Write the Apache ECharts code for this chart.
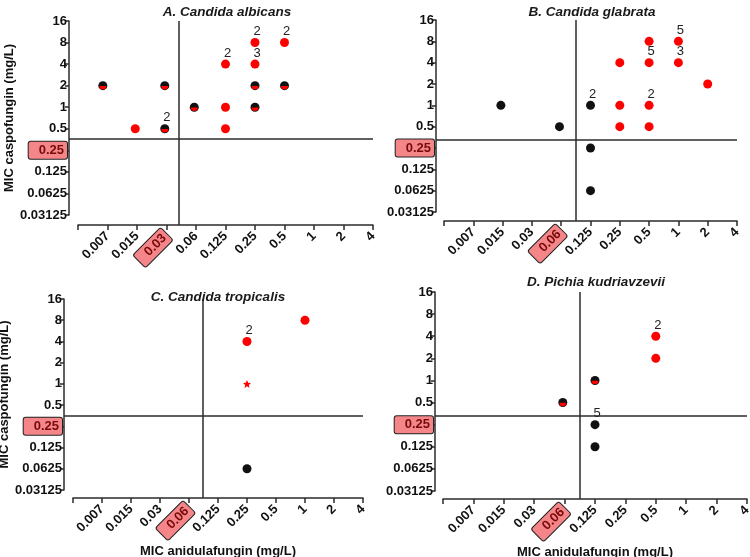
<!DOCTYPE html>
<html><head><meta charset="utf-8">
<script src="https://cdn.jsdelivr.net/npm/echarts@6/dist/echarts.min.js"></script>
<style>html,body{margin:0;padding:0;background:#fff}#c{width:750px;height:557px}</style>
</head><body><div id="c"></div>
<script>
// Tick labels (x: log2 exponents -8..2, y: log2 exponents -5..4)
const xTickLabels = ['', '0.007', '0.015', '0.03', '0.06', '0.125', '0.25', '0.5', '1', '2', '4'];
const yTickLabels = ['0.03125', '0.0625', '0.125', '0.25', '0.5', '1', '2', '4', '8', '16'];
const titles = ['A. Candida albicans', 'B. Candida glabrata', 'C. Candida tropicalis', 'D. Pichia kudriavzevii'];
const xHighlight = ['0.03', '0.06', '0.06', '0.06'];
const yHighlight = ['0.25', '0.25', '0.25', '0.25'];
// breakpoint reference lines (mg/L)
const xCutoff = [0.042, 0.088, 0.086, 0.088];
const yCutoff = [0.36, 0.33, 0.35, 0.33];

// points: [anidulafungin MIC, caspofungin MIC, count label]
const A_red   = [[0.015, 0.5], [0.125, 4, 2], [0.125, 1], [0.125, 0.5], [0.25, 8, 2], [0.25, 4, 3], [0.5, 8, 2]];
const A_black = [];
const A_half  = [[0.007, 2], [0.03, 2], [0.03, 0.5, 2], [0.06, 1], [0.25, 2], [0.25, 1], [0.5, 2]];
const A_star  = [];
const B_red   = [[0.25, 4], [0.25, 1], [0.25, 0.5], [0.5, 8], [0.5, 4, 5], [0.5, 1, 2], [0.5, 0.5], [1, 8, 5], [1, 4, 3], [2, 2]];
const B_black = [[0.015, 1], [0.06, 0.5], [0.125, 1, 2], [0.125, 0.25], [0.125, 0.0625]];
const B_half  = [];
const B_star  = [];
const C_red   = [[0.25, 4, 2], [1, 8]];
const C_black = [[0.25, 0.0625]];
const C_half  = [];
const C_star  = [[0.25, 1]];
const D_red   = [[0.5, 4, 2], [0.5, 2]];
const D_black = [[0.125, 0.25, 5], [0.125, 0.125]];
const D_half  = [[0.06, 0.5], [0.125, 1]];
const D_star  = [];

const panels = [
  {red: A_red, black: A_black, half: A_half, star: A_star},
  {red: B_red, black: B_black, half: B_half, star: B_star},
  {red: C_red, black: C_black, half: C_half, star: C_star},
  {red: D_red, black: D_black, half: D_half, star: D_star}
];

// layout (pixels): y-axis line x, x-axis start/end, top tick, bottom tick, x-axis line y
const layout = [
  {axisX: 69,  x0: 78,  x1: 373, yTop: 21,  yBot: 215, axisY: 225, title: [222, 0],   yName: true,  xName: false},
  {axisX: 436, x0: 444, x1: 737, yTop: 20,  yBot: 212, axisY: 221, title: [587, 0],   yName: false, xName: false},
  {axisX: 64,  x0: 73,  x1: 363, yTop: 299, yBot: 490, axisY: 498, title: [213, 285], yName: true,  xName: true},
  {axisX: 435, x0: 443, x1: 747, yTop: 292, yBot: 491, axisY: 499, title: [591, 270], yName: false, xName: true}
];

const FONT = '"Liberation Sans", Arial, sans-serif';
const RED = '#ff0000', BLACK = '#111111', AX = '#2b2b2b';
const hlStyle = {backgroundColor: '#f4868a', borderColor: '#222', borderWidth: 1, borderRadius: 2,
  color: '#7a0a0a', padding: [2, 3, 2, 10], fontWeight: 'bold', fontSize: 13, fontFamily: FONT};
const halfPath = 'path://M0,0 A10,10 0 0 0 20,0 Z';
const starPath = 'path://M10,0 L12.9,6.9 L20,7.6 L14.6,12.3 L16.2,19.5 L10,15.7 L3.8,19.5 L5.4,12.3 L0,7.6 L7.1,6.9 Z';

const L2 = Math.log2;
const toItem = p => {
  const it = {value: [L2(p[0]), L2(p[1])]};
  if (p[2] != null) it.label = {show: true, formatter: String(p[2])};
  return it;
};
const countLabel = {show: false, position: 'top', distance: 0, offset: [2, 0], color: '#222', fontSize: 13, fontFamily: FONT};

const option = {animation: false, backgroundColor: '#fff', title: [], grid: [], xAxis: [], yAxis: [], series: []};
const overlay = {grid: [], xAxis: [], yAxis: [], series: []};
const N = layout.length;

layout.forEach((g, i) => {
  const unitX = (g.x1 - g.x0) / 10, unitY = (g.yBot - g.yTop) / 9;
  const xMin = -8 - (g.x0 - g.axisX) / unitX;
  const yMin = -5 - (g.axisY - g.yBot) / unitY;

  option.title.push({text: titles[i], left: g.title[0], top: g.title[1], textAlign: 'center',
    textStyle: {fontSize: 13.5, fontWeight: 'bold', fontStyle: 'italic', color: '#1a1a1a', fontFamily: FONT}});
  option.grid.push({left: g.x0, top: g.yTop, width: g.x1 - g.x0, height: g.yBot - g.yTop, containLabel: false, outerBoundsMode: 'none'});
  option.xAxis.push({
    type: 'value', gridIndex: i, min: -8, max: 2, interval: 1, offset: g.axisY - g.yBot,
    splitLine: {show: false},
    axisLine: {show: true, onZero: false, lineStyle: {color: AX, width: 1.5}},
    axisTick: {show: true, length: 5, lineStyle: {color: AX, width: 1.5}},
    axisLabel: {rotate: 45, margin: 9, fontSize: 13, fontWeight: 'bold', color: '#111', fontFamily: FONT,
      showMinLabel: true, showMaxLabel: true,
      formatter: v => { const s = xTickLabels[Math.round(v) + 8]; return s === xHighlight[i] ? '{hl|' + s + '}' : s; },
      rich: {hl: hlStyle}},
    name: g.xName ? 'MIC anidulafungin (mg/L)' : '', nameLocation: 'middle', nameGap: 43,
    nameTextStyle: {fontSize: 13, fontWeight: 'bold', color: '#111', fontFamily: FONT}
  });
  option.yAxis.push({
    type: 'value', gridIndex: i, min: -5, max: 4, interval: 1, offset: g.x0 - g.axisX,
    splitLine: {show: false},
    axisLine: {show: true, onZero: false, lineStyle: {color: AX, width: 1.5}},
    axisTick: {show: true, length: 4, lineStyle: {color: AX, width: 1.5}},
    axisLabel: {margin: 2, fontSize: 13, fontWeight: 'bold', color: '#111', fontFamily: FONT,
      showMinLabel: true, showMaxLabel: true,
      formatter: v => { const s = yTickLabels[Math.round(v) + 5]; return s === yHighlight[i] ? '{hl|' + s + '}' : s; },
      rich: {hl: hlStyle}},
    name: g.yName ? 'MIC caspofungin (mg/L)' : '', nameLocation: 'middle', nameGap: 52,
    nameTextStyle: {fontSize: 13, fontWeight: 'bold', color: '#111', fontFamily: FONT}
  });

  // overlay grid (same scale, extended to the axis lines) for breakpoint reference lines
  overlay.grid.push({left: g.axisX, top: g.yTop, width: g.x1 - g.axisX, height: g.axisY - g.yTop, containLabel: false, outerBoundsMode: 'none'});
  overlay.xAxis.push({type: 'value', gridIndex: N + i, min: xMin, max: 2,
    axisLine: {show: false}, axisTick: {show: false}, axisLabel: {show: false}, splitLine: {show: false}});
  overlay.yAxis.push({type: 'value', gridIndex: N + i, min: yMin, max: 4,
    axisLine: {show: false}, axisTick: {show: false}, axisLabel: {show: false}, splitLine: {show: false}});
  const xc = L2(xCutoff[i]), yc = L2(yCutoff[i]);
  overlay.series.push({
    type: 'scatter', xAxisIndex: N + i, yAxisIndex: N + i, data: [], silent: true,
    markLine: {silent: true, symbol: 'none', animation: false, label: {show: false},
      lineStyle: {color: AX, width: 1.5, type: 'solid'},
      data: [
        [{coord: [xMin, yc]}, {coord: [2, yc]}],
        [{coord: [xc, 4]}, {coord: [xc, yMin]}]
      ]}
  });

  const p = panels[i];
  option.series.push({type: 'scatter', xAxisIndex: i, yAxisIndex: i, symbol: 'circle', symbolSize: 9,
    itemStyle: {color: BLACK, opacity: 1}, label: countLabel, data: p.black.map(toItem), z: 3});
  option.series.push({type: 'scatter', xAxisIndex: i, yAxisIndex: i, symbol: 'circle', symbolSize: 9,
    itemStyle: {color: BLACK, opacity: 1}, label: countLabel, data: p.half.map(toItem), z: 3});
  option.series.push({type: 'scatter', xAxisIndex: i, yAxisIndex: i, symbol: halfPath, symbolSize: [7, 3.5],
    symbolOffset: [0, 2], itemStyle: {color: RED, opacity: 1}, silent: true,
    data: p.half.map(q => [L2(q[0]), L2(q[1])]), z: 4});
  option.series.push({type: 'scatter', xAxisIndex: i, yAxisIndex: i, symbol: 'circle', symbolSize: 9,
    itemStyle: {color: RED, opacity: 1}, label: countLabel, data: p.red.map(toItem), z: 3});
  option.series.push({type: 'scatter', xAxisIndex: i, yAxisIndex: i, symbol: starPath, symbolSize: 8,
    itemStyle: {color: RED, opacity: 1}, data: p.star.map(toItem), z: 3});
});

option.grid = option.grid.concat(overlay.grid);
option.xAxis = option.xAxis.concat(overlay.xAxis);
option.yAxis = option.yAxis.concat(overlay.yAxis);
option.series = option.series.concat(overlay.series);

const chart = echarts.init(document.getElementById('c'), null, {renderer: 'canvas'});
chart.setOption(option);
</script>
</body></html>
